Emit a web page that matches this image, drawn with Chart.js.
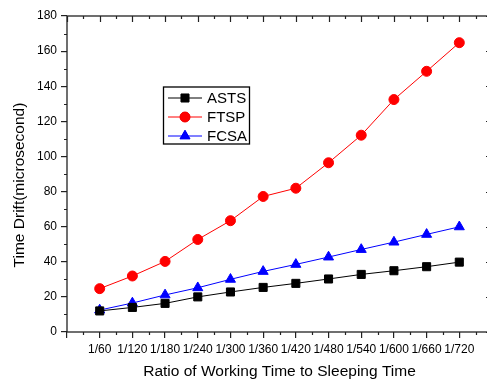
<!DOCTYPE html>
<html>
<head>
<meta charset="utf-8">
<script src="https://cdn.jsdelivr.net/npm/chart.js@4.4.1/dist/chart.umd.min.js"></script>
<style>
  html, body { margin: 0; padding: 0; background: #fff; overflow: hidden; }
  #wrap { width: 500px; height: 383px; }
</style>
</head>
<body>
<div id="wrap"><canvas id="myChart" width="500" height="383"></canvas></div>
<script>
// ratio labels on the x axis
const categories = ['1/60', '1/120', '1/180', '1/240', '1/300', '1/360', '1/420', '1/480', '1/540', '1/600', '1/660', '1/720'];

// time drift values (microsecond)
const asts = [12, 14, 16.3, 20, 22.8, 25.4, 27.7, 30.2, 32.8, 34.9, 37.2, 39.8];
const ftsp = [24.7, 31.9, 40.2, 52.7, 63.4, 77.2, 81.9, 96.4, 112.1, 132.4, 148.5, 164.8];
const fcsa = [12.5, 16.5, 21.1, 25.2, 30.0, 34.5, 38.5, 42.7, 47.0, 51.2, 55.6, 59.9];

const yTicks = [0, 20, 40, 60, 80, 100, 120, 140, 160, 180];

const FONT = 'Arial, "Liberation Sans", sans-serif';

function toPoints(arr) {
    return arr.map((v, i) => ({ x: i + 1, y: v }));
}

// frame, minor ticks, mirrored ticks, y title and legend box
const framePlugin = {
    id: 'frame',
    afterDraw(chart) {
        const ctx = chart.ctx;
        const a = chart.chartArea;
        const xs = chart.scales.x;
        const ys = chart.scales.y;
        ctx.save();
        ctx.strokeStyle = '#222';
        ctx.lineWidth = 1.3;
        ctx.strokeRect(a.left, a.top, a.right - a.left, a.bottom - a.top);

        ctx.lineWidth = 1.2;
        ctx.beginPath();
        for (let v = 0; v <= 180; v += 10) {
            const y = Math.round(ys.getPixelForValue(v)) + 0.5;
            const len = v % 20 === 0 ? 6 : 3;
            if (v % 20 !== 0) {
                ctx.moveTo(a.left - len, y); ctx.lineTo(a.left, y);
            }
            ctx.moveTo(a.right, y); ctx.lineTo(a.right - len, y);
        }
        for (let v = 0; v <= 13; v += 0.5) {
            const x = Math.round(xs.getPixelForValue(v)) + 0.5;
            const len = v % 1 === 0 ? 6 : 3;
            if (v % 1 !== 0) {
                ctx.moveTo(x, a.bottom); ctx.lineTo(x, a.bottom + len);
            }
            ctx.moveTo(x, a.top); ctx.lineTo(x, a.top + len);
        }
        ctx.stroke();

        // y axis title
        ctx.fillStyle = '#000';
        ctx.font = '15.5px ' + FONT;
        ctx.textAlign = 'center';
        ctx.textBaseline = 'middle';
        ctx.translate(20, 185);
        ctx.rotate(-Math.PI / 2);
        ctx.fillText('Time Drift(microsecond)', 0, 0);
        ctx.restore();

        // legend
        ctx.save();
        ctx.strokeStyle = '#000';
        ctx.lineWidth = 1.3;
        ctx.strokeRect(163.5, 87, 86, 57);
        ctx.font = '15px ' + FONT;
        ctx.textAlign = 'left';
        ctx.textBaseline = 'middle';
        chart.data.datasets.forEach((ds, i) => {
            const y = 98 + i * 19;
            ctx.strokeStyle = ds.borderColor;
            ctx.lineWidth = 1;
            ctx.beginPath();
            ctx.moveTo(168, y); ctx.lineTo(202, y);
            ctx.stroke();
            Chart.helpers.drawPoint(ctx, {
                pointStyle: ds.pointStyle,
                radius: ds.pointRadius,
                borderWidth: 1,
                rotation: 0
            }, 185, y);
            ctx.fillStyle = ds.backgroundColor;
            ctx.strokeStyle = ds.borderColor;
            ctx.fill();
            ctx.fillStyle = '#000';
            ctx.fillText(ds.label, 207, y + 1);
        });
        ctx.restore();
    }
};

const ctx = document.getElementById('myChart').getContext('2d');

const myChart = new Chart(ctx, {
    type: 'line',
    data: {
        datasets: [
            {
                label: 'ASTS',
                data: toPoints(asts),
                borderColor: '#000000',
                backgroundColor: '#000000',
                borderWidth: 1,
                pointStyle: 'rect',
                pointRadius: 5.7,
                pointBorderWidth: 1
            },
            {
                label: 'FTSP',
                data: toPoints(ftsp),
                borderColor: '#ff0000',
                backgroundColor: '#ff0000',
                borderWidth: 1,
                pointStyle: 'circle',
                pointRadius: 5,
                pointBorderWidth: 1
            },
            {
                label: 'FCSA',
                data: toPoints(fcsa),
                borderColor: '#0000ff',
                backgroundColor: '#0000ff',
                borderWidth: 1,
                pointStyle: 'triangle',
                pointRadius: 5.8,
                pointBorderWidth: 1
            }
        ]
    },
    options: {
        responsive: false,
        animation: false,
        layout: { padding: { left: 0, top: 16, right: 8, bottom: 0 } },
        plugins: {
            legend: { display: false },
            tooltip: { enabled: false }
        },
        elements: { line: { tension: 0 } },
        scales: {
            x: {
                type: 'linear',
                min: 0,
                max: 13,
                afterFit(scale) { scale.height = 51; },
                afterBuildTicks(scale) {
                    scale.ticks = [];
                    for (let i = 0; i <= 13; i++) scale.ticks.push({ value: i });
                },
                grid: {
                    drawOnChartArea: false,
                    drawTicks: true,
                    tickLength: 6,
                    color: '#222',
                    lineWidth: 1.2
                },
                border: { display: false },
                ticks: {
                    autoSkip: false,
                    maxRotation: 0,
                    padding: 4,
                    color: '#000',
                    font: { family: FONT, size: 12 },
                    callback: v => categories[v - 1] || ''
                },
                title: {
                    display: true,
                    text: 'Ratio of Working Time to Sleeping Time',
                    color: '#000',
                    font: { family: FONT, size: 15.5 },
                    padding: { top: 0, bottom: 2 }
                }
            },
            y: {
                min: 0,
                max: 180,
                afterFit(scale) { scale.width = 67; },
                afterBuildTicks(scale) {
                    scale.ticks = yTicks.map(v => ({ value: v }));
                },
                grid: {
                    drawOnChartArea: false,
                    drawTicks: true,
                    tickLength: 6,
                    color: '#222',
                    lineWidth: 1.2
                },
                border: { display: false },
                ticks: {
                    padding: 4,
                    color: '#000',
                    font: { family: FONT, size: 12 }
                }
            }
        }
    },
    plugins: [framePlugin]
});
</script>
</body>
</html>
